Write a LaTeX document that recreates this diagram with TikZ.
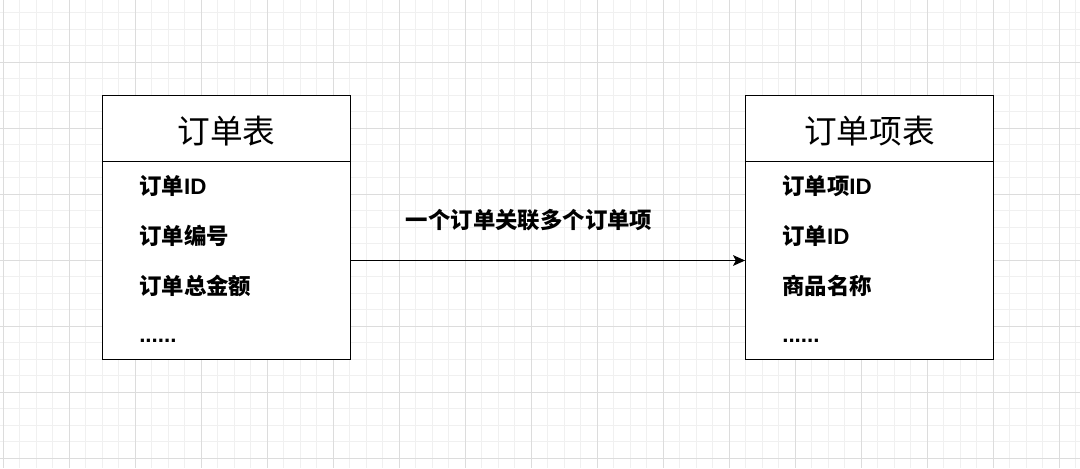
\documentclass[tikz,border=0pt]{standalone}
\usepackage{fontspec}
\newfontfamily\cjk{Noto Sans CJK SC}
\newfontfamily\lat{Liberation Sans}
\usetikzlibrary{arrows.meta}
\definecolor{gridminor}{HTML}{F0F0F0}
\definecolor{gridmajor}{HTML}{DCDCDC}
\tikzset{
  minorline/.style={draw=gridminor, line width=0.75pt},
  majorline/.style={draw=gridmajor, line width=0.75pt},
  tablebox/.style={draw=black, line width=1pt, minimum width=185.6pt, minimum height=198pt, inner sep=0pt, fill=white},
  title/.style={font=\cjk\fontsize{24.5}{28}\selectfont, inner sep=0pt},
  row/.style={font=\cjk\bfseries\fontsize{16.8}{20}\selectfont, anchor=base west, inner sep=0pt},
  lbl/.style={font=\cjk\bfseries\fontsize{16.8}{20}\selectfont, anchor=base, inner sep=0pt},
  rel/.style={draw=black, line width=1pt, -{Stealth[length=9pt, width=8pt, inset=2pt]}},
}
\newcommand{\lt}[1]{{\lat\bfseries #1}}
\begin{document}
\begin{tikzpicture}[x=0.75pt, y=-0.75pt]
\useasboundingbox (0,0) rectangle (1080,468);
\fill[white] (0,0) rectangle (1080,468);
% grid
\foreach \i in {0,...,65} {
  \pgfmathsetmacro{\xx}{3+16.5*\i}
  \pgfmathtruncatemacro{\m}{mod(\i,4)}
  \ifnum\m=0\relax\else\draw[minorline] (\xx,0) -- (\xx,468);\fi
}
\foreach \i in {0,...,28} {
  \pgfmathsetmacro{\yy}{12.5+16.5*\i}
  \pgfmathtruncatemacro{\m}{mod(\i+1,4)}
  \ifnum\m=0\relax\else\draw[minorline] (0,\yy) -- (1080,\yy);\fi
}
\foreach \i in {0,...,16} {
  \pgfmathsetmacro{\xx}{3+66*\i}
  \draw[majorline] (\xx,0) -- (\xx,468);
}
\foreach \i in {0,...,6} {
  \pgfmathsetmacro{\yy}{62+66*\i}
  \draw[majorline] (0,\yy) -- (1080,\yy);
}
% tables
\node[tablebox] (orders) at (226.5,227.5) {};
\node[tablebox] (items) at (869.5,227.5) {};
\draw[line width=1pt] (orders.west |- 0,161.5) coordinate (osl) -- (orders.east |- 0,161.5) coordinate (osr);
\draw[line width=1pt] (items.west |- 0,161.5) coordinate (isl) -- (items.east |- 0,161.5) coordinate (isr);
\node[title] (ordersT) at (226.5,131) {订单表};
\node[title] (itemsT) at (869.5,131) {订单项表};
% rows left
\node[row] (o1) at (139,194.5) {订单\lt{ID}};
\node[row] (o2) at (139,244.5) {订单编号};
\node[row] (o3) at (139,294.5) {订单总金额};
\node[row] (o4) at (139,342) {\lt{......}};
% rows right
\node[row] (i1) at (782,194.5) {订单项\lt{ID}};
\node[row] (i2) at (782,244.5) {订单\lt{ID}};
\node[row] (i3) at (782,294.5) {商品名称};
\node[row] (i4) at (782,342) {\lt{......}};
% relation
\draw[rel] ([yshift=-24.75pt]orders.east) -- ([yshift=-24.75pt]items.west);
\node[lbl] (rl) at (529,228) {一个订单关联多个订单项};
\end{tikzpicture}
\end{document}
